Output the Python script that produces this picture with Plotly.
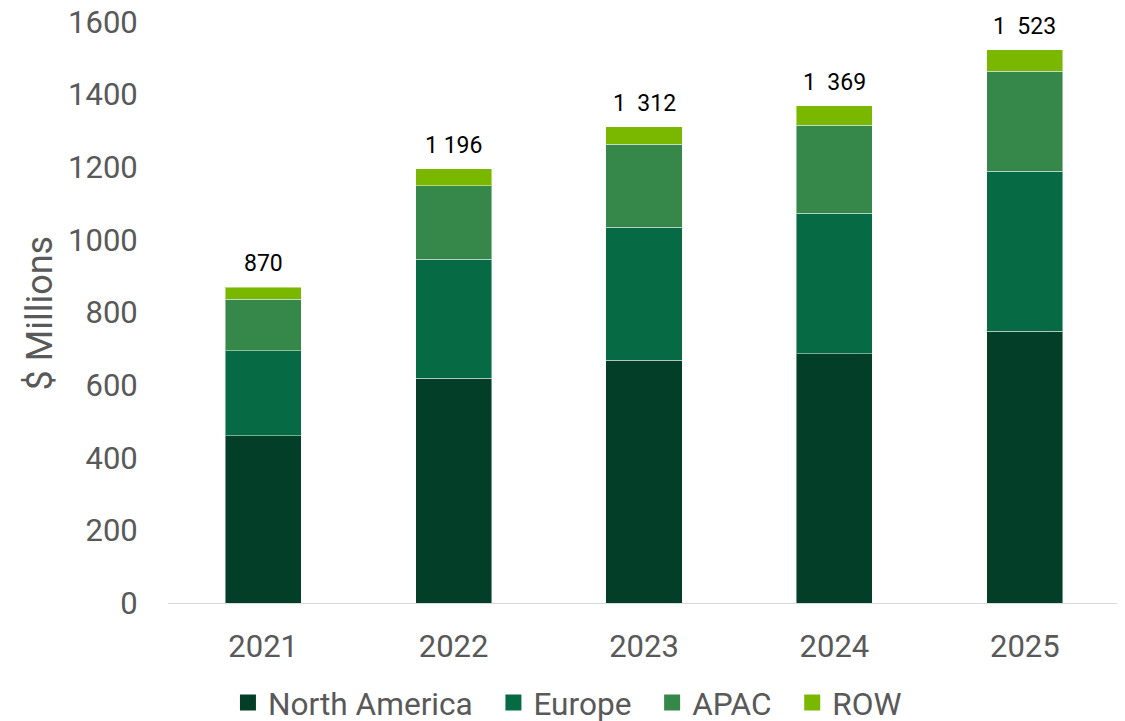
import plotly.graph_objects as go

years = ["2021", "2022", "2023", "2024", "2025"]
north_america = [460, 619, 669, 686, 748]
europe = [234, 327, 366, 388, 441]
apac = [142, 203, 228, 242, 275]
row = [34, 47, 49, 53, 59]
total_labels = ["870", "1 196", "1  312", "1  369", "1  523"]

series = [
    ("North America", north_america, "#033f28"),
    ("Europe", europe, "#066b45"),
    ("APAC", apac, "#36884a"),
    ("ROW", row, "#7ab800"),
]

fig = go.Figure()
for name, vals, color in series:
    fig.add_trace(go.Bar(
        x=years, y=vals, name=name, showlegend=False,
        marker=dict(color=color, line=dict(color="rgba(255,255,255,0.45)", width=1)),
    ))
# legend entries with larger square swatches
for name, vals, color in series:
    fig.add_trace(go.Scatter(
        x=[years[0]], y=[None], name=name + "\u00a0\u00a0", mode="markers",
        marker=dict(symbol="square", size=20, color=color),
    ))

totals = [a + b + c + d for a, b, c, d in zip(north_america, europe, apac, row)]
for i, (tot, lab) in enumerate(zip(totals, total_labels)):
    fig.add_annotation(x=i, y=tot, text=lab, showarrow=False, yanchor="bottom", yshift=8,
                       font=dict(family="Roboto", size=23, color="#000000"))

fig.add_annotation(xref="paper", yref="paper", x=-0.1345, y=0.5, text="$ Millions",
                   textangle=-90, showarrow=False, xanchor="center", yanchor="middle",
                   font=dict(family="Roboto", size=36, color="#595959"))

fig.update_layout(
    barmode="stack",
    bargap=0.6,
    width=1125, height=721,
    margin=dict(l=160, r=13, t=14, b=126, autoexpand=False),
    plot_bgcolor="white", paper_bgcolor="white",
    font=dict(family="Roboto", color="#595959"),
    legend=dict(orientation="h", x=0.428, xanchor="center", yref="container", y=0.036,
                yanchor="middle",
                font=dict(size=31.6, color="#595959"), traceorder="normal",
                itemsizing="trace", itemwidth=30),
    xaxis=dict(type="category", range=[-0.5, 4.5], automargin=False, showline=True,
               linecolor="#d9d9d9", linewidth=1, ticks="outside", ticklen=16,
               tickcolor="rgba(0,0,0,0)", tickfont=dict(size=31, color="#595959"), showgrid=False),
    yaxis=dict(range=[0, 1600], dtick=200, automargin=False, showgrid=False, zeroline=False,
               showline=False, ticks="outside", ticklen=23, tickcolor="rgba(0,0,0,0)",
               ticklabeloverflow="allow",
               tickfont=dict(size=31, color="#595959")),
)

fig.write_html("out.html")
